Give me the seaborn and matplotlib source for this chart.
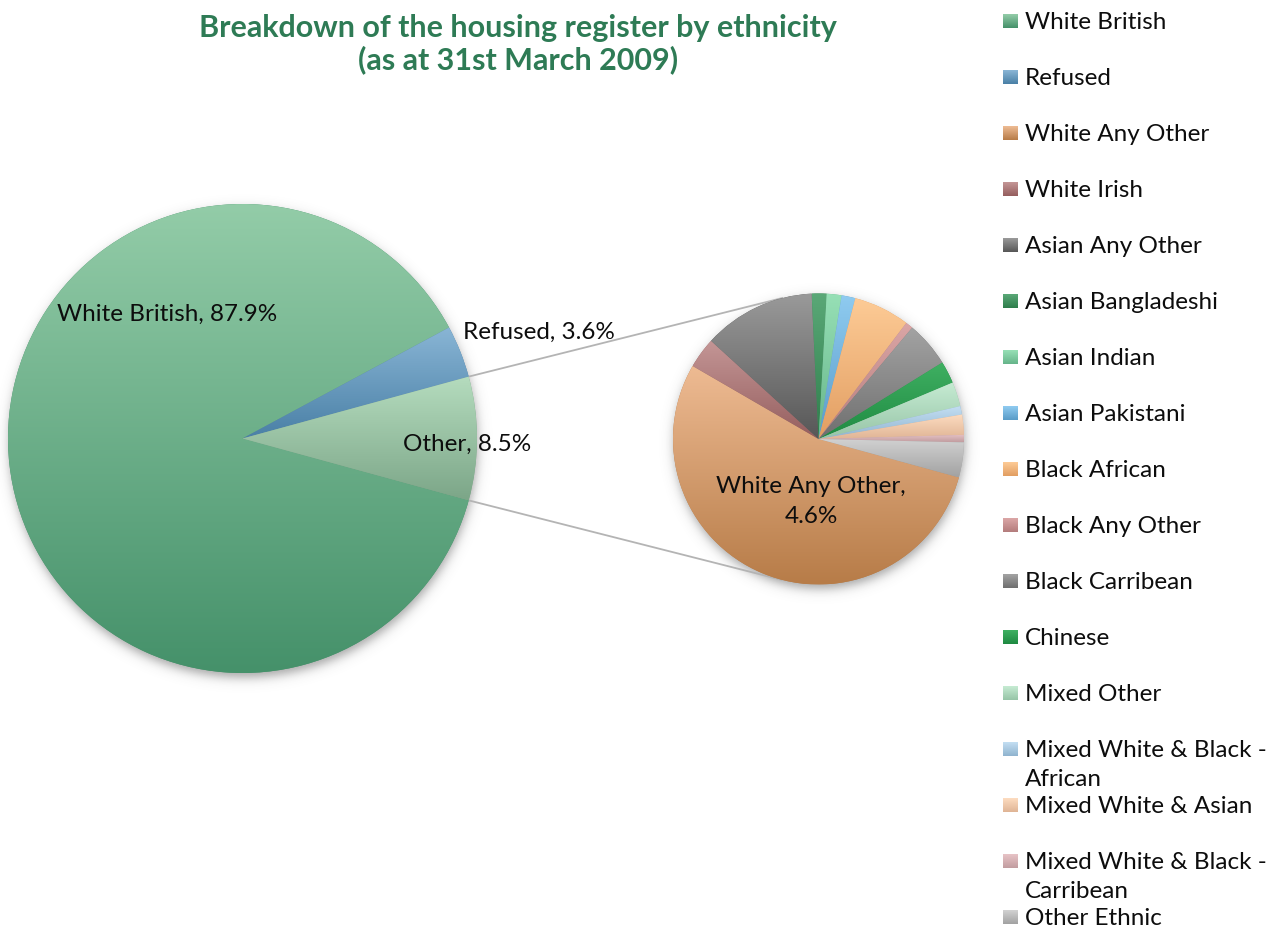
import textwrap

import numpy as np
import matplotlib
matplotlib.use("Agg")
import matplotlib.pyplot as plt
import seaborn as sns

# ---------------------------------------------------------------- data
main_names = ["White British", "Refused", "Other"]
white_british_pct = 87.9
refused_pct = 3.6

other_names = [
    "White Any Other", "White Irish", "Asian Any Other", "Asian Bangladeshi",
    "Asian Indian", "Asian Pakistani", "Black African", "Black Any Other",
    "Black Carribean", "Chinese", "Mixed Other", "Mixed White & Black - African",
    "Mixed White & Asian", "Mixed White & Black - Carribean", "Other Ethnic",
]
other_pct = [4.6, 0.29, 1.06, 0.14, 0.14, 0.13, 0.53, 0.07,
             0.43, 0.21, 0.23, 0.08, 0.19, 0.07, 0.33]

title_lines = ["Breakdown of the housing register by ethnicity",
               "(as at 31st March 2009)"]

# ---------------------------------------------------------------- styling
main_shades = [("#93cca8", "#45916a"),   # White British
               ("#8ab6d6", "#4a80a6"),   # Refused
               ("#b5dcbe", "#7ca688")]   # Other
other_shades = [
    ("#eebb93", "#b77c48"),  # White Any Other
    ("#c49696", "#955e5e"),  # White Irish
    ("#9a9a9a", "#575757"),  # Asian Any Other
    ("#5aa877", "#2f7e4c"),  # Asian Bangladeshi
    ("#97e0b6", "#66b58a"),  # Asian Indian
    ("#8fcbf0", "#5a9cc8"),  # Asian Pakistani
    ("#fdcb96", "#e29e62"),  # Black African
    ("#dba6a6", "#b47d7d"),  # Black Any Other
    ("#a3a3a3", "#6f6f6f"),  # Black Carribean
    ("#3fb062", "#1f8a42"),  # Chinese
    ("#c6ebd3", "#97c5a7"),  # Mixed Other
    ("#c3def2", "#90b4cf"),  # Mixed White & Black - African
    ("#fddcc0", "#e0b596"),  # Mixed White & Asian
    ("#e7c3c6", "#c29da0"),  # Mixed White & Black - Carribean
    ("#d2d2d2", "#a2a2a2"),  # Other Ethnic
]

sns.set_theme(style="white")
plt.rcParams["font.family"] = ["Lato", "DejaVu Sans"]

W, H = 1279, 950
fig = plt.figure(figsize=(W / 100, H / 100), dpi=100)
ax = fig.add_axes([0, 0, 1, 1])

TEXT_SIZE = 17.5
TEXT_COLOR = "#0d0d0d"


def py(y):
    """Convert a top-down pixel row into the axes' bottom-up coordinate."""
    return H - y


def gradient(top, bottom, n=256):
    return np.array(sns.blend_palette([top, bottom], n_colors=n))[:, None, :]


def shade_patch(patch, top, bottom):
    ext = patch.get_path().get_extents()
    im = ax.imshow(gradient(top, bottom), extent=[ext.x0, ext.x1, ext.y0, ext.y1],
                   origin="upper", aspect="auto", interpolation="bilinear",
                   zorder=patch.get_zorder() + 0.1)
    im.set_clip_path(patch)


def drop_shadow(cx, cy, r, dx=1.0, dy=-5.0, soft=3.2, strength=0.5):
    pad = 30
    xs = np.linspace(cx - r - pad, cx + r + pad, 500)
    ys = np.linspace(cy - r - pad, cy + r + pad, 500)
    X, Y = np.meshgrid(xs, ys)
    d = np.hypot(X - cx - dx, Y - cy - dy)
    rgba = np.zeros(X.shape + (4,))
    rgba[..., :3] = 0.3
    rgba[..., 3] = strength / (1.0 + np.exp((d - r) / soft))
    ax.imshow(rgba, extent=[xs[0], xs[-1], ys[0], ys[-1]], origin="lower",
              aspect="auto", interpolation="bilinear", zorder=0.5)


def lines_at(x, first_baseline, lines, gap, **kw):
    """Write each line on its own baseline, top-down from first_baseline."""
    for k, line in enumerate(lines):
        ax.text(x, py(first_baseline + k * gap), line, va="baseline", **kw)


# ---------------------------------------------------------------- pies
other_total = float(np.sum(other_pct))
main_values = [white_british_pct, refused_pct, other_total]
start = -other_total / 100 * 360 / 2   # centre the "Other" slice on the right

main_c, main_r = (242.5, py(438.5)), 234.5
sub_c, sub_r = (818.5, py(439.0)), 145.5

drop_shadow(*main_c, main_r)
drop_shadow(*sub_c, sub_r)

main_wedges, _ = ax.pie(main_values, center=main_c, radius=main_r,
                        startangle=start, counterclock=False,
                        colors=[c[1] for c in main_shades], frame=True,
                        wedgeprops=dict(linewidth=0, zorder=2))
sub_wedges, _ = ax.pie(other_pct, center=sub_c, radius=sub_r,
                       startangle=start, counterclock=False,
                       colors=[c[1] for c in other_shades], frame=True,
                       wedgeprops=dict(linewidth=0, zorder=2))
for w, (t, b) in zip(main_wedges, main_shades):
    shade_patch(w, t, b)
for w, (t, b) in zip(sub_wedges, other_shades):
    shade_patch(w, t, b)

# connector lines: from the edges of the "Other" slice, tangent to the second pie
ow = main_wedges[2]
for ang, side in ((ow.theta2, 1), (ow.theta1, -1)):
    px_ = main_c[0] + main_r * np.cos(np.radians(ang))
    py_ = main_c[1] + main_r * np.sin(np.radians(ang))
    vx, vy = px_ - sub_c[0], py_ - sub_c[1]
    dist = np.hypot(vx, vy)
    base = np.degrees(np.arctan2(vy, vx))
    off = np.degrees(np.arccos(sub_r / dist))
    cands = [base + off, base - off]
    tang = max(cands, key=lambda a: side * np.sin(np.radians(a)))
    tx = sub_c[0] + sub_r * np.cos(np.radians(tang))
    ty = sub_c[1] + sub_r * np.sin(np.radians(tang))
    ax.plot([px_, tx], [py_, ty], color="#b4b4b4", lw=1.3, zorder=1,
            solid_capstyle="butt")

# ---------------------------------------------------------------- data labels
label_kw = dict(fontsize=TEXT_SIZE, color=TEXT_COLOR, zorder=6)
lines_at(57, 321, [f"{main_names[0]}, {main_values[0]:.1f}%"], 0, ha="left", **label_kw)
lines_at(463, 339, [f"{main_names[1]}, {main_values[1]:.1f}%"], 0, ha="left", **label_kw)
lines_at(403, 450.5, [f"{main_names[2]}, {main_values[2]:.1f}%"], 0, ha="left", **label_kw)
lines_at(811, 493, [f"{other_names[0]},", f"{other_pct[0]:.1f}%"], 30,
         ha="center", **label_kw)

# ---------------------------------------------------------------- title
lines_at(518, 37, title_lines, 32, ha="center", fontsize=22,
         fontweight="bold", color="#2e7b55", zorder=6)

# ---------------------------------------------------------------- legend
legend_names = main_names[:2] + other_names
legend_shades = main_shades[:2] + other_shades
for i, (name, (t, b)) in enumerate(zip(legend_names, legend_shades)):
    base_y = 29 + 56 * i
    ax.imshow(gradient(t, b, 32), extent=[1003, 1018, py(base_y - 1), py(base_y - 15)],
              origin="upper", aspect="auto", interpolation="bilinear", zorder=6)
    lines_at(1025, base_y, textwrap.wrap(name, 21), 29, ha="left",
             fontsize=TEXT_SIZE, color=TEXT_COLOR, zorder=6)

ax.set_xlim(0, W)
ax.set_ylim(0, H)
ax.set_aspect("equal")
ax.axis("off")
fig.savefig("out.png", dpi=100, facecolor="white")
